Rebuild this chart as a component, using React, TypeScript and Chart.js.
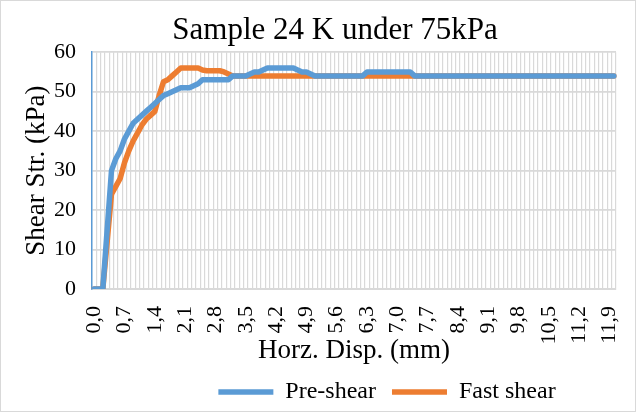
import React, { useEffect, useRef } from 'react';
import { Chart, registerables } from 'chart.js';

Chart.register(...registerables);

const titleText = 'Sample 24 K under 75kPa';
const xTitle = 'Horz. Disp. (mm)';
const yTitle = 'Shear Str. (kPa)';

// Horizontal displacement categories 0,0 ... 12,0 mm (step 0,1)
const categories: string[] = Array.from({ length: 121 }, (_, i) => (i / 10).toFixed(1).replace('.', ','));

const preShear: number[] = [
  0, 0, 0, 15, 30, 33, 35, 38, 40, 42,
  43, 44, 45, 46, 47, 48, 49, 49.5, 50, 50.5,
  51, 51, 51, 51.5, 52, 53, 53, 53, 53, 53,
  53, 53, 54, 54, 54, 54, 54.5, 55, 55, 55.5,
  56, 56, 56, 56, 56, 56, 56, 55.5, 55, 55,
  54.5, 54, 54, 54, 54, 54, 54, 54, 54, 54,
  54, 54, 54, 55, 55, 55, 55, 55, 55, 55,
  55, 55, 55, 55, 54, 54, 54, 54, 54, 54,
  54, 54, 54, 54, 54, 54, 54, 54, 54, 54,
  54, 54, 54, 54, 54, 54, 54, 54, 54, 54,
  54, 54, 54, 54, 54, 54, 54, 54, 54, 54,
  54, 54, 54, 54, 54, 54, 54, 54, 54, 54,
  54,
];

const fastShear: number[] = [
  0, 0, 0, 12, 24, 26, 28, 32, 35, 37.5,
  39.5, 41.5, 43, 44, 45, 49, 52.5, 53, 54, 55,
  56, 56, 56, 56, 56, 55.5, 55.3, 55.3, 55.3, 55.3,
  55, 54.5, 54, 54, 54, 54, 54, 54, 54, 54,
  54, 54, 54, 54, 54, 54, 54, 54, 54, 54,
  54, 54, 54, 54, 54, 54, 54, 54, 54, 54,
  54, 54, 54, 54, 54, 54, 54, 54, 54, 54,
  54, 54, 54, 54, 54, 54, 54, 54, 54, 54,
  54, 54, 54, 54, 54, 54, 54, 54, 54, 54,
  54, 54, 54, 54, 54, 54, 54, 54, 54, 54,
  54, 54, 54, 54, 54, 54, 54, 54, 54, 54,
  54, 54, 54, 54, 54, 54, 54, 54, 54, 54,
  54,
];

const yTicks = { min: 0, max: 60, step: 10 };
const labelEvery = 7;

const FONT = "'Liberation Serif', 'Times New Roman', serif";
const LEGEND_CENTER_X = 387;
const TITLE_CENTER_X = 335;

const framePlugin = {
  id: 'frame',
  beforeDraw(chart: any) {
    const { ctx, width, height } = chart;
    ctx.save();
    ctx.fillStyle = '#ffffff';
    ctx.fillRect(0, 0, width, height);
    ctx.strokeStyle = '#d9d9d9';
    ctx.lineWidth = 1;
    ctx.strokeRect(0.5, 0.5, width - 1, height - 1);
    ctx.restore();
  },
};

const centerBox = (box: any, cx: number) => {
  if (!box) return;
  const shift = cx - (box.left + box.right) / 2;
  box.left += shift;
  box.right += shift;
};

const boxShiftPlugin = {
  id: 'boxShift',
  afterLayout(chart: any) {
    centerBox(chart.legend, LEGEND_CENTER_X);
    centerBox(chart.titleBlock, TITLE_CENTER_X);
  },
};

export default function App() {
  const ref = useRef<HTMLCanvasElement | null>(null);

  useEffect(() => {
    document.body.style.margin = '0';
    const canvas = ref.current;
    if (!canvas) return;
    const chart = new Chart(canvas, {
      type: 'line',
      data: {
        labels: categories,
        datasets: [
          {
            label: 'Pre-shear',
            data: preShear,
            borderColor: '#5B9BD5',
            backgroundColor: '#5B9BD5',
            borderWidth: 5.5,
            pointRadius: 0,
            tension: 0,
            borderCapStyle: 'round',
            borderJoinStyle: 'round',
          },
          {
            label: 'Fast shear',
            data: fastShear,
            borderColor: '#ED7D31',
            backgroundColor: '#ED7D31',
            borderWidth: 5.5,
            pointRadius: 0,
            tension: 0,
            borderCapStyle: 'round',
            borderJoinStyle: 'round',
          },
        ],
      },
      options: {
        animation: false,
        responsive: false,
        devicePixelRatio: 1,
        layout: { padding: { left: 0, right: 20, top: 0, bottom: -2 } },
        plugins: {
          title: {
            display: true,
            text: titleText,
            color: '#000',
            font: { family: FONT, size: 31, weight: 'normal', lineHeight: 1.2 },
            padding: { top: 12, bottom: 3 },
          },
          legend: {
            display: true,
            position: 'bottom',
            labels: {
              usePointStyle: true,
              pointStyle: 'line',
              pointStyleWidth: 55,
              color: '#000',
              font: { family: FONT, size: 24 },
              padding: 16,
            },
          },
          tooltip: { enabled: false },
        },
        scales: {
          x: {
            type: 'category',
            offset: true,
            grid: { offset: true, color: '#d9d9d9', lineWidth: 1.2, drawTicks: false },
            border: { color: '#d9d9d9', width: 2 },
            ticks: {
              autoSkip: false,
              maxRotation: 90,
              minRotation: 90,
              padding: 17,
              color: '#000',
              font: { family: FONT, size: 22 },
              callback: (_v: any, i: number) => (i % labelEvery === 0 ? categories[i] : ''),
            },
            title: {
              display: true,
              text: xTitle,
              color: '#000',
              font: { family: FONT, size: 27, lineHeight: 1 },
              padding: { top: 0, bottom: 0 },
            },
            afterFit: (s: any) => {
              s.height = 75;
              s.paddingLeft = 0;
              s.paddingRight = 0;
            },
          },
          y: {
            min: yTicks.min,
            max: yTicks.max,
            ticks: {
              stepSize: yTicks.step,
              padding: 16,
              color: '#000',
              font: { family: FONT, size: 22 },
            },
            grid: { color: '#d9d9d9', lineWidth: 1.8, drawTicks: false },
            border: { color: '#5B9BD5', width: 1.5 },
            title: {
              display: true,
              text: yTitle,
              color: '#000',
              font: { family: FONT, size: 27, lineHeight: 1.2 },
              padding: { top: 21, bottom: 0 },
            },
            afterFit: (s: any) => {
              s.width = 92;
              s.paddingTop = 0;
              s.paddingBottom = 0;
            },
          },
        },
      },
      plugins: [framePlugin, boxShiftPlugin],
    } as any);
    return () => chart.destroy();
  }, []);

  return (
    <div style={{ width: 636, height: 412 }}>
      <canvas ref={ref} width={636} height={412} style={{ display: 'block' }} />
    </div>
  );
}
